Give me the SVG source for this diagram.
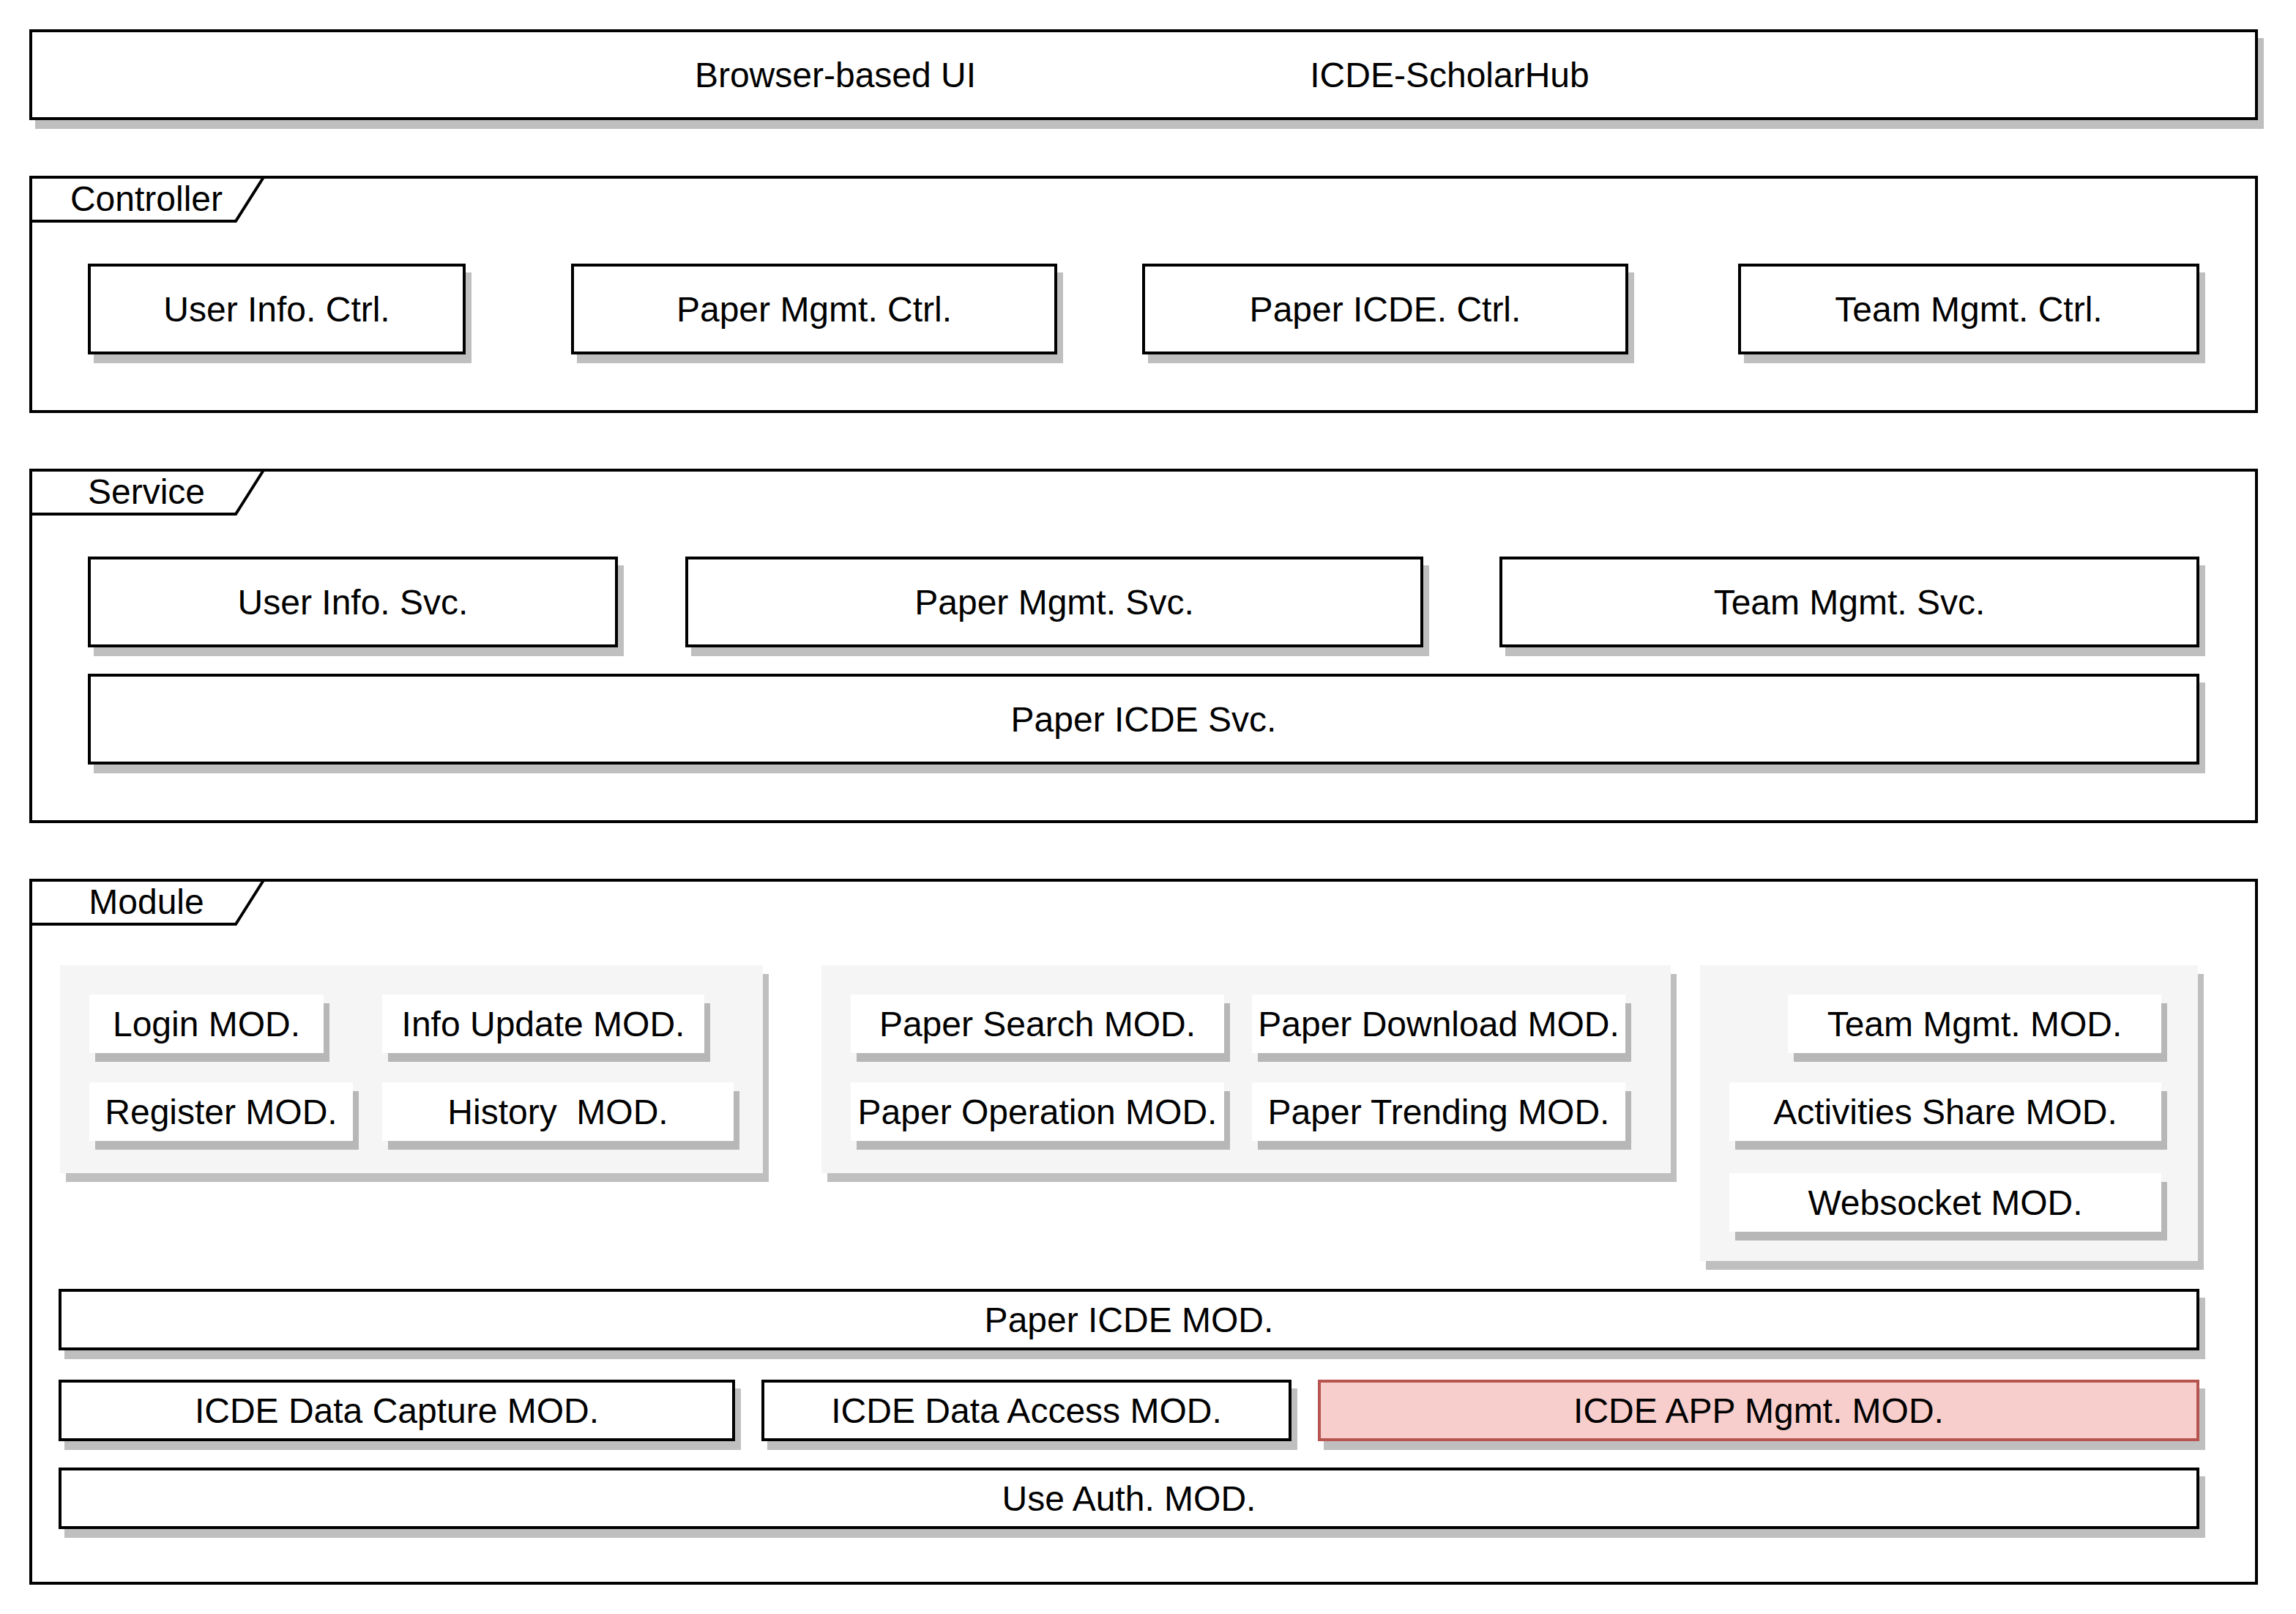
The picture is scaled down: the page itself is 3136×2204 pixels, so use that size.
<svg xmlns="http://www.w3.org/2000/svg" width="3136" height="2204" viewBox="0 0 3136 2204">
<style>
  .bg { fill: #ffffff; }
  .frame { fill: none; stroke: #000; stroke-width: 4; }
  .box { fill: #ffffff; stroke: #000; stroke-width: 4; }
  .pink { fill: #f8cecc; stroke: #b85450; stroke-width: 4; }
  .grp { fill: #f5f5f5; }
  .mod { fill: #ffffff; }
  .sh { fill: #000; fill-opacity: 0.25; }
  text { font-family: "Liberation Sans", Arial, Helvetica, sans-serif; font-size: 48px; fill: #000; text-anchor: middle; }
</style>
<rect class="bg" x="0" y="0" width="3136" height="2204"/>

<!-- Top UI bar -->
<g id="ui-bar">
  <rect class="sh" x="48" y="52" width="3044" height="124"/>
  <rect class="box" x="42" y="42" width="3040" height="120"/>
  <text x="1141" y="119">Browser-based UI</text>
  <text x="1980" y="119">ICDE-ScholarHub</text>
</g>

<!-- Controller frame -->
<g id="controller-frame">
  <rect class="frame" x="42" y="242" width="3040" height="320"/>
  <path class="frame" d="M42,302 L322,302 L360,242"/>
  <text x="200" y="288">Controller</text>
</g>
<g id="user-info-ctrl">
  <rect class="sh" x="128" y="372" width="516" height="124"/>
  <rect class="box" x="122" y="362" width="512" height="120"/>
  <text x="378" y="439">User Info. Ctrl.</text>
</g>
<g id="paper-mgmt-ctrl">
  <rect class="sh" x="788" y="372" width="664" height="124"/>
  <rect class="box" x="782" y="362" width="660" height="120"/>
  <text x="1112" y="439">Paper Mgmt. Ctrl.</text>
</g>
<g id="paper-icde-ctrl">
  <rect class="sh" x="1568" y="372" width="664" height="124"/>
  <rect class="box" x="1562" y="362" width="660" height="120"/>
  <text x="1892" y="439">Paper ICDE. Ctrl.</text>
</g>
<g id="team-mgmt-ctrl">
  <rect class="sh" x="2382" y="372" width="630" height="124"/>
  <rect class="box" x="2376" y="362" width="626" height="120"/>
  <text x="2689" y="439">Team Mgmt. Ctrl.</text>
</g>

<!-- Service frame -->
<g id="service-frame">
  <rect class="frame" x="42" y="642" width="3040" height="480"/>
  <path class="frame" d="M42,702 L322,702 L360,642"/>
  <text x="200" y="688">Service</text>
</g>
<g id="user-info-svc">
  <rect class="sh" x="128" y="772" width="724" height="124"/>
  <rect class="box" x="122" y="762" width="720" height="120"/>
  <text x="482" y="839">User Info. Svc.</text>
</g>
<g id="paper-mgmt-svc">
  <rect class="sh" x="944" y="772" width="1008" height="124"/>
  <rect class="box" x="938" y="762" width="1004" height="120"/>
  <text x="1440" y="839">Paper Mgmt. Svc.</text>
</g>
<g id="team-mgmt-svc">
  <rect class="sh" x="2056" y="772" width="956" height="124"/>
  <rect class="box" x="2050" y="762" width="952" height="120"/>
  <text x="2526" y="839">Team Mgmt. Svc.</text>
</g>
<g id="paper-icde-svc">
  <rect class="sh" x="128" y="932" width="2884" height="124"/>
  <rect class="box" x="122" y="922" width="2880" height="120"/>
  <text x="1562" y="999">Paper ICDE Svc.</text>
</g>

<!-- Module frame -->
<g id="module-frame">
  <rect class="frame" x="42" y="1202" width="3040" height="960"/>
  <path class="frame" d="M42,1262 L322,1262 L360,1202"/>
  <text x="200" y="1248">Module</text>
</g>

<!-- Group 1: user modules -->
<g id="user-modules">
  <rect class="sh" x="90" y="1330" width="960" height="284"/>
  <rect class="grp" x="82" y="1318" width="960" height="284"/>
  <g id="login-mod">
    <rect class="sh" x="130" y="1370" width="320" height="80"/>
    <rect class="mod" x="122" y="1358" width="320" height="80"/>
    <text x="282" y="1415">Login MOD.</text>
  </g>
  <g id="info-update-mod">
    <rect class="sh" x="530" y="1370" width="440" height="80"/>
    <rect class="mod" x="522" y="1358" width="440" height="80"/>
    <text x="742" y="1415">Info Update MOD.</text>
  </g>
  <g id="register-mod">
    <rect class="sh" x="130" y="1490" width="360" height="80"/>
    <rect class="mod" x="122" y="1478" width="360" height="80"/>
    <text x="302" y="1535">Register MOD.</text>
  </g>
  <g id="history-mod">
    <rect class="sh" x="530" y="1490" width="480" height="80"/>
    <rect class="mod" x="522" y="1478" width="480" height="80"/>
    <text x="762" y="1535" xml:space="preserve" style="white-space:pre">History  MOD.</text>
  </g>
</g>

<!-- Group 2: paper modules -->
<g id="paper-modules">
  <rect class="sh" x="1130" y="1330" width="1160" height="284"/>
  <rect class="grp" x="1122" y="1318" width="1160" height="284"/>
  <g id="paper-search-mod">
    <rect class="sh" x="1170" y="1370" width="510" height="80"/>
    <rect class="mod" x="1162" y="1358" width="510" height="80"/>
    <text x="1417" y="1415">Paper Search MOD.</text>
  </g>
  <g id="paper-download-mod">
    <rect class="sh" x="1718" y="1370" width="510" height="80"/>
    <rect class="mod" x="1710" y="1358" width="510" height="80"/>
    <text x="1965" y="1415">Paper Download MOD.</text>
  </g>
  <g id="paper-operation-mod">
    <rect class="sh" x="1170" y="1490" width="510" height="80"/>
    <rect class="mod" x="1162" y="1478" width="510" height="80"/>
    <text x="1417" y="1535">Paper Operation MOD.</text>
  </g>
  <g id="paper-trending-mod">
    <rect class="sh" x="1718" y="1490" width="510" height="80"/>
    <rect class="mod" x="1710" y="1478" width="510" height="80"/>
    <text x="1965" y="1535">Paper Trending MOD.</text>
  </g>
</g>

<!-- Group 3: team modules -->
<g id="team-modules">
  <rect class="sh" x="2330" y="1330" width="680" height="404"/>
  <rect class="grp" x="2322" y="1318" width="680" height="404"/>
  <g id="team-mgmt-mod">
    <rect class="sh" x="2450" y="1370" width="510" height="80"/>
    <rect class="mod" x="2442" y="1358" width="510" height="80"/>
    <text x="2697" y="1415">Team Mgmt. MOD.</text>
  </g>
  <g id="activities-share-mod">
    <rect class="sh" x="2370" y="1490" width="590" height="80"/>
    <rect class="mod" x="2362" y="1478" width="590" height="80"/>
    <text x="2657" y="1535">Activities Share MOD.</text>
  </g>
  <g id="websocket-mod">
    <rect class="sh" x="2370" y="1614" width="590" height="80"/>
    <rect class="mod" x="2362" y="1602" width="590" height="80"/>
    <text x="2657" y="1659">Websocket MOD.</text>
  </g>
</g>

<g id="paper-icde-mod">
  <rect class="sh" x="88" y="1772" width="2924" height="84"/>
  <rect class="box" x="82" y="1762" width="2920" height="80"/>
  <text x="1542" y="1819">Paper ICDE MOD.</text>
</g>
<g id="icde-data-capture-mod">
  <rect class="sh" x="88" y="1896" width="924" height="84"/>
  <rect class="box" x="82" y="1886" width="920" height="80"/>
  <text x="542" y="1943">ICDE Data Capture MOD.</text>
</g>
<g id="icde-data-access-mod">
  <rect class="sh" x="1048" y="1896" width="724" height="84"/>
  <rect class="box" x="1042" y="1886" width="720" height="80"/>
  <text x="1402" y="1943">ICDE Data Access MOD.</text>
</g>
<g id="icde-app-mgmt-mod">
  <rect class="sh" x="1808" y="1896" width="1204" height="84"/>
  <rect class="pink" x="1802" y="1886" width="1200" height="80"/>
  <text x="2402" y="1943">ICDE APP Mgmt. MOD.</text>
</g>
<g id="use-auth-mod">
  <rect class="sh" x="88" y="2016" width="2924" height="84"/>
  <rect class="box" x="82" y="2006" width="2920" height="80"/>
  <text x="1542" y="2063">Use Auth. MOD.</text>
</g>

<g id="connectors"></g>
</svg>
